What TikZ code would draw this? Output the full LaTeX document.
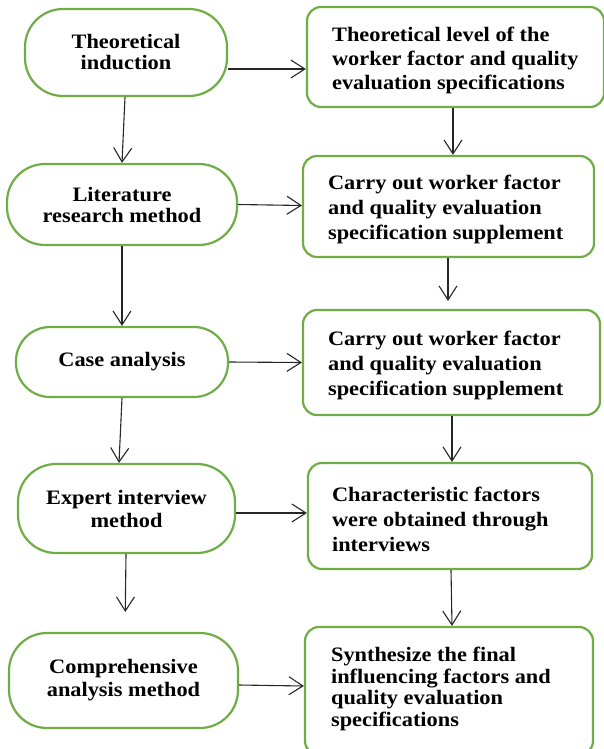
\documentclass[tikz,border=0pt]{standalone}
\usepackage{fontspec}
\setmainfont{Liberation Serif}[FakeStretch=1.09]
\usetikzlibrary{arrows.meta}
\definecolor{boxgreen}{RGB}{112,173,71}
\begin{document}
\begin{tikzpicture}[x=1pt,y=-1pt,
  box/.style={draw=boxgreen, line width=2.2pt, fill=white, inner sep=0pt},
  pill/.style={box, rounded corners=38pt, align=center, font=\fontsize{20.5}{21}\selectfont\bfseries},
  card/.style={box, rounded corners=14pt},
  txt/.style={anchor=west, inner sep=0pt, align=left, font=\fontsize{20.5}{24}\selectfont\bfseries},
  conn/.style={draw=black!85, line width=1.1pt, -{Straight Barb[length=14pt,width=18pt,line width=1.1pt]}}]
\useasboundingbox (0,0) rectangle (604,749);

% left column
\node[pill, minimum width=202pt, minimum height=87pt] (L1) at (126,52.5) {Theoretical\\induction};
\node[pill, minimum width=230pt, minimum height=81pt] (L2) at (122,204.5) {Literature\\research method};
\node[pill, rounded corners=34pt, minimum width=212pt, minimum height=70pt] (L3) at (122,362) {Case analysis};
\node[pill, minimum width=217pt, minimum height=89pt, font=\fontsize{20.5}{23}\selectfont\bfseries] (L4) at (126.5,508.5) {Expert interview\\method};
\node[pill, minimum width=229pt, minimum height=95pt, font=\fontsize{20.5}{23}\selectfont\bfseries] (L5) at (123.5,680.5) {Comprehensive\\analysis method};

% right column
\node[card, minimum width=297pt, minimum height=100pt] (R1) at (455.5,57) {};
\node[card, minimum width=291pt, minimum height=101pt] (R2) at (448.5,206.5) {};
\node[card, minimum width=297pt, minimum height=105pt] (R3) at (451.5,362.5) {};
\node[card, minimum width=284pt, minimum height=106pt] (R4) at (450,516) {};
\node[card, minimum width=288pt, minimum height=128pt] (R5) at (449,691) {};

\node[txt] (R1t) at ([xshift=26pt,yshift=-3pt]R1.west) {Theoretical level of the\\worker factor and quality\\evaluation specifications};
\node[txt, font=\fontsize{20.5}{25}\selectfont\bfseries] (R2t) at ([xshift=26pt,yshift=-3pt]R2.west) {Carry out worker factor\\and quality evaluation\\specification supplement};
\node[txt, font=\fontsize{20.5}{25}\selectfont\bfseries] (R3t) at ([xshift=26pt,yshift=-3pt]R3.west) {Carry out worker factor\\and quality evaluation\\specification supplement};
\node[txt, font=\fontsize{20.5}{25}\selectfont\bfseries] (R4t) at ([xshift=25pt,yshift=-3pt]R4.west) {Characteristic factors\\were obtained through\\interviews};
\node[txt, font=\fontsize{20.5}{21.5}\selectfont\bfseries] (R5t) at ([xshift=27pt,yshift=2pt]R5.west) {Synthesize the final\\influencing factors and\\quality evaluation\\specifications};

% horizontal connectors
\draw[conn] ([yshift=-16.5pt]L1.east) -- ([yshift=-12pt]R1.west);
\draw[conn] (L2.east) -- ([yshift=1pt]R2.west);
\draw[conn] (L3.east) -- (R3.west);
\draw[conn] ([yshift=-4.5pt]L4.east) -- ([yshift=3pt]R4.west);
\draw[conn] ([yshift=-4.5pt]L5.east) -- ([yshift=5pt]R5.west);

% vertical connectors, left
\draw[conn] ([xshift=-1pt]L1.south) -- (L2.north);
\draw[conn] (L2.south) -- (L3.north);
\draw[conn] (L3.south) -- ([xshift=-7.5pt]L4.north);
\draw[conn, shorten >=20pt] ([xshift=-0.5pt]L4.south) -- ([xshift=1.5pt]L5.north);

% vertical connectors, right
\draw[conn] ([xshift=-2.5pt]R1.south) -- ([xshift=4.5pt]R2.north);
\draw[conn, shorten >=8pt] ([xshift=-0.5pt]R2.south) -- ([xshift=-3.5pt]R3.north);
\draw[conn] ([xshift=0.5pt]R3.south) -- ([xshift=2pt]R4.north);
\draw[conn] ([xshift=1pt]R4.south) -- ([xshift=3pt]R5.north);
\end{tikzpicture}
\end{document}
